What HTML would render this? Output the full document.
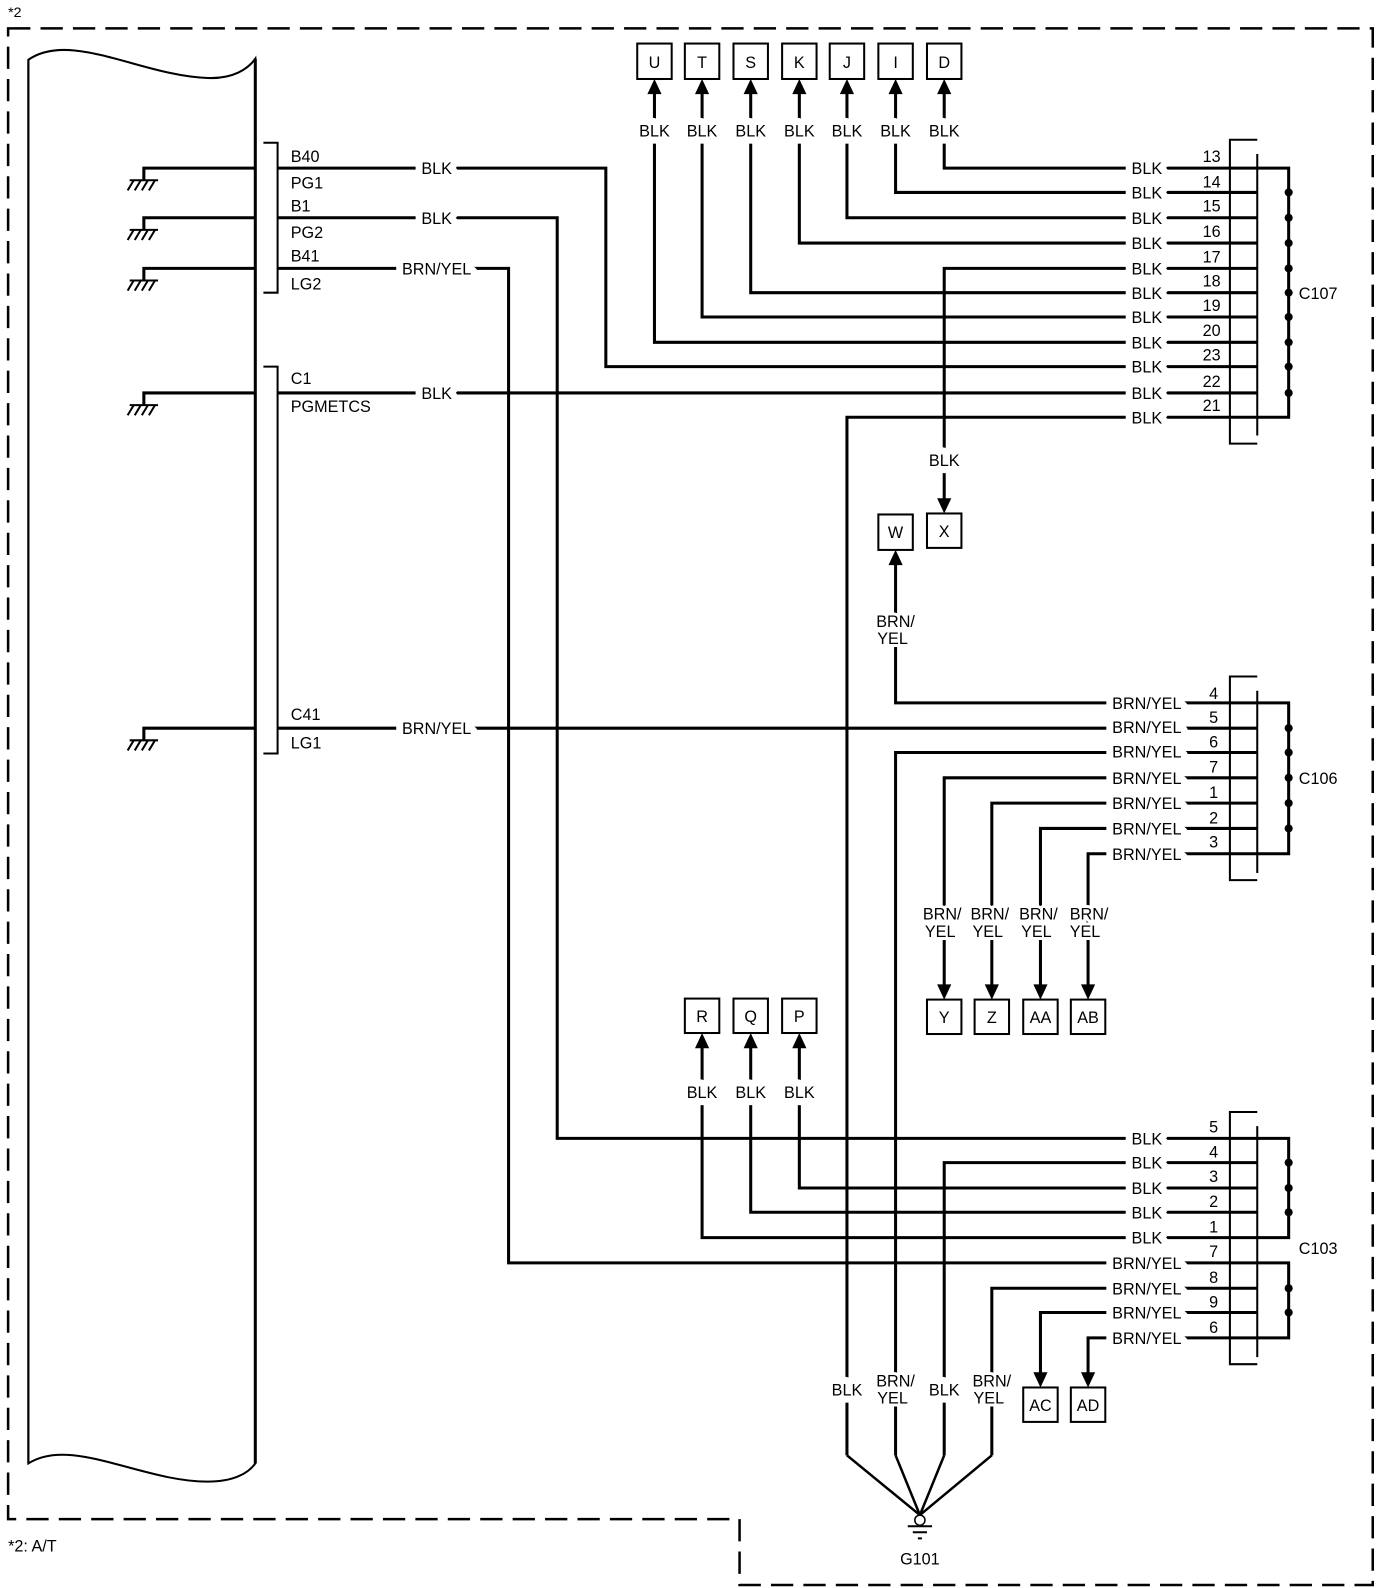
<!DOCTYPE html>
<html><head><meta charset="utf-8"><style>
html,body{margin:0;padding:0;background:#fff}
svg{display:block}
text{font-family:"Liberation Sans",Arial,sans-serif;font-size:16px;fill:#000}
.t{text-anchor:middle;stroke:#fff;stroke-width:14px;paint-order:stroke;stroke-linejoin:round}
.t2{text-anchor:middle;stroke:#fff;stroke-width:6px;paint-order:stroke;stroke-linejoin:round}
.l{text-anchor:start}
.w{fill:none;stroke:#000;stroke-width:3}
.b{fill:none;stroke:#000;stroke-width:2}
</style></head><body>
<svg width="1392" height="1588" viewBox="0 0 1374 1568" preserveAspectRatio="none" xmlns="http://www.w3.org/2000/svg">
<rect width="1374" height="1568" fill="#fff"/>
<path d="M8,28 H1355 V1565 H730 V1500 H8 Z" fill="none" stroke="#000" stroke-width="2.5" stroke-dasharray="22,10"/>
<text x="8" y="17" style="font-size:14px">*2</text>
<text x="8" y="1532">*2: A/T</text>
<path d="M28,59 C70,30 140,75 205,77 C230,78 245,68 252,58 L252,1445 C245,1455 230,1463 205,1463 C140,1463 70,1418 28,1445 Z" fill="none" stroke="#000" stroke-width="2"/>
<path d="M28,1445 V59" class="b"/>
<path d="M252,58 V1445" class="w"/>
<g>
<path d="M142,178 V166 H252 M142,227 V215 H252 M142,277 V265 H252 M142,400 V388 H252 M142,731 V719 H252" class="w"/>
<g stroke="#000" stroke-width="2">
<path d="M128,178 H156 M128,227 H156 M128,277 H156 M128,400 H156 M128,731 H156"/>
<path d="M132,178 l-6,10 M139,178 l-6,10 M146,178 l-6,10 M153,178 l-6,10
M132,227 l-6,10 M139,227 l-6,10 M146,227 l-6,10 M153,227 l-6,10
M132,277 l-6,10 M139,277 l-6,10 M146,277 l-6,10 M153,277 l-6,10
M132,400 l-6,10 M139,400 l-6,10 M146,400 l-6,10 M153,400 l-6,10
M132,731 l-6,10 M139,731 l-6,10 M146,731 l-6,10 M153,731 l-6,10"/>
</g>
</g>
<path d="M260,141 H274 V289 H260 M260,362 H274 V744 H260" class="b"/>
<text x="287" y="160" class="l">B40</text><text x="287" y="186" class="l">PG1</text>
<text x="287" y="209" class="l">B1</text><text x="287" y="235" class="l">PG2</text>
<text x="287" y="258" class="l">B41</text><text x="287" y="286" class="l">LG2</text>
<text x="287" y="379" class="l">C1</text><text x="287" y="407" class="l">PGMETCS</text>
<text x="287" y="711" class="l">C41</text><text x="287" y="739" class="l">LG1</text>

<g class="w">
<path d="M274,166 H598 V362 H1241"/>
<path d="M274,215 H550 V1124 H1241"/>
<path d="M274,265 H502 V1247 H1241"/>
<path d="M274,388 H1241"/>
<path d="M274,719 H1241"/>
<path d="M932,90 V166 H1241"/>
<path d="M884,90 V190 H1241"/>
<path d="M836,90 V215 H1241"/>
<path d="M789,90 V240 H1241"/>
<path d="M741,90 V289 H1241"/>
<path d="M693,90 V313 H1241"/>
<path d="M646,90 V338 H1241"/>
<path d="M932,496 V265 H1241"/>
<path d="M836,1437 V412 H1241"/>
<path d="M884,556 V694 H1241"/>
<path d="M884,1437 V743 H1241"/>
<path d="M932,975 V768 H1241"/>
<path d="M979,975 V793 H1241"/>
<path d="M1027,975 V818 H1241"/>
<path d="M1074,975 V843 H1241"/>
<path d="M693,1034 V1222 H1241"/>
<path d="M741,1034 V1197 H1241"/>
<path d="M789,1034 V1173 H1241"/>
<path d="M932,1437 V1148 H1241"/>
<path d="M979,1437 V1272 H1241"/>
<path d="M1027,1358 V1296 H1241"/>
<path d="M1074,1358 V1321 H1241"/>
<path d="M836,1437 L908,1496 M884,1437 L908,1496 M932,1437 L908,1496 M979,1437 L908,1496" stroke-width="2.5"/>
<path d="M1241,166 H1272 V412 H1241 M1241,694 H1272 V843 H1241 M1241,1124 H1272 V1222 H1241 M1241,1247 H1272 V1321 H1241"/>
</g>
<path d="M1241,138 H1214 V438 H1241 M1241,152 V430 M1241,668 H1214 V869 H1241 M1241,682 V862 M1241,1098 H1214 V1347 H1241 M1241,1112 V1340" class="b"/>
<g fill="#000">
<circle cx="1272" cy="190" r="4"/><circle cx="1272" cy="215" r="4"/><circle cx="1272" cy="240" r="4"/><circle cx="1272" cy="265" r="4"/><circle cx="1272" cy="289" r="4"/><circle cx="1272" cy="313" r="4"/><circle cx="1272" cy="338" r="4"/><circle cx="1272" cy="362" r="4"/><circle cx="1272" cy="388" r="4"/>
<circle cx="1272" cy="719" r="4"/><circle cx="1272" cy="743" r="4"/><circle cx="1272" cy="768" r="4"/><circle cx="1272" cy="793" r="4"/><circle cx="1272" cy="818" r="4"/>
<circle cx="1272" cy="1148" r="4"/><circle cx="1272" cy="1173" r="4"/><circle cx="1272" cy="1197" r="4"/>
<circle cx="1272" cy="1272" r="4"/><circle cx="1272" cy="1296" r="4"/>
</g>
<text x="1282" y="295" class="l">C107</text>
<text x="1282" y="774" class="l">C106</text>
<text x="1282" y="1238" class="l">C103</text>

<g style="text-anchor:middle">
<text x="1196" y="160">13</text><text x="1196" y="185">14</text><text x="1196" y="209">15</text><text x="1196" y="234">16</text><text x="1196" y="259">17</text><text x="1196" y="283">18</text><text x="1196" y="307">19</text><text x="1196" y="332">20</text><text x="1196" y="356">23</text><text x="1196" y="382">22</text><text x="1196" y="406">21</text>
<text x="1198" y="690">4</text><text x="1198" y="714">5</text><text x="1198" y="738">6</text><text x="1198" y="763">7</text><text x="1198" y="788">1</text><text x="1198" y="813">2</text><text x="1198" y="837">3</text>
<text x="1198" y="1118">5</text><text x="1198" y="1143">4</text><text x="1198" y="1167">3</text><text x="1198" y="1192">2</text><text x="1198" y="1217">1</text><text x="1198" y="1241">7</text><text x="1198" y="1267">8</text><text x="1198" y="1291">9</text><text x="1198" y="1316">6</text>
</g>

<g class="t">
<text x="431" y="172">BLK</text><text x="431" y="221">BLK</text><text x="431" y="271">BRN/YEL</text>
<text x="431" y="394">BLK</text><text x="431" y="725">BRN/YEL</text>
<text x="1132" y="172">BLK</text><text x="1132" y="196">BLK</text><text x="1132" y="221">BLK</text><text x="1132" y="246">BLK</text><text x="1132" y="271">BLK</text><text x="1132" y="295">BLK</text><text x="1132" y="319">BLK</text><text x="1132" y="344">BLK</text><text x="1132" y="368">BLK</text><text x="1132" y="394">BLK</text><text x="1132" y="418">BLK</text>
<text x="1132" y="700">BRN/YEL</text><text x="1132" y="724">BRN/YEL</text><text x="1132" y="748">BRN/YEL</text><text x="1132" y="774">BRN/YEL</text><text x="1132" y="799">BRN/YEL</text><text x="1132" y="824">BRN/YEL</text><text x="1132" y="849">BRN/YEL</text>
<text x="1132" y="1130">BLK</text><text x="1132" y="1154">BLK</text><text x="1132" y="1179">BLK</text><text x="1132" y="1203">BLK</text><text x="1132" y="1228">BLK</text><text x="1132" y="1253">BRN/YEL</text><text x="1132" y="1278">BRN/YEL</text><text x="1132" y="1302">BRN/YEL</text><text x="1132" y="1327">BRN/YEL</text>
<text x="646" y="135">BLK</text><text x="693" y="135">BLK</text><text x="741" y="135">BLK</text><text x="789" y="135">BLK</text><text x="836" y="135">BLK</text><text x="884" y="135">BLK</text><text x="932" y="135">BLK</text>
<text x="932" y="460">BLK</text>
<text x="693" y="1084">BLK</text><text x="741" y="1084">BLK</text><text x="789" y="1084">BLK</text>
<text x="836" y="1378">BLK</text>
<text x="932" y="1378">BLK</text>
</g>
<g class="t2">
<text x="884" y="619">BRN/</text><text x="881" y="636">YEL</text>
<text x="930" y="908">BRN/</text><text x="928" y="925">YEL</text>
<text x="977" y="908">BRN/</text><text x="975" y="925">YEL</text>
<text x="1025" y="908">BRN/</text><text x="1023" y="925">YEL</text>
<text x="1075" y="908">BRN/</text><text x="1071" y="925">YEL</text>
<text x="884" y="1369">BRN/</text><text x="881" y="1386">YEL</text>
<text x="979" y="1369">BRN/</text><text x="976" y="1386">YEL</text>
</g>

<g fill="#fff" stroke="#000" stroke-width="2">
<rect x="629" y="43" width="34" height="35"/><rect x="676" y="43" width="34" height="35"/><rect x="724" y="43" width="34" height="35"/><rect x="772" y="43" width="34" height="35"/><rect x="819" y="43" width="34" height="35"/><rect x="867" y="43" width="34" height="35"/><rect x="915" y="43" width="34" height="35"/>
<rect x="915" y="507" width="34" height="34"/><rect x="867" y="508" width="34" height="35"/>
<rect x="915" y="987" width="34" height="34"/><rect x="962" y="987" width="34" height="34"/><rect x="1010" y="987" width="34" height="34"/><rect x="1057" y="987" width="34" height="34"/>
<rect x="676" y="986" width="34" height="34"/><rect x="724" y="986" width="34" height="34"/><rect x="772" y="986" width="34" height="34"/>
<rect x="1010" y="1370" width="34" height="34"/><rect x="1057" y="1370" width="34" height="34"/>
</g>
<g style="text-anchor:middle">
<text x="646" y="67">U</text><text x="693" y="67">T</text><text x="741" y="67">S</text><text x="789" y="67">K</text><text x="836" y="67">J</text><text x="884" y="67">I</text><text x="932" y="67">D</text>
<text x="932" y="530">X</text><text x="884" y="531">W</text>
<text x="932" y="1010">Y</text><text x="979" y="1010">Z</text><text x="1027" y="1010">AA</text><text x="1074" y="1010">AB</text>
<text x="693" y="1009">R</text><text x="741" y="1009">Q</text><text x="789" y="1009">P</text>
<text x="1027" y="1393">AC</text><text x="1074" y="1393">AD</text>
</g>
<g fill="#000">
<path d="M646,78 l-7,15 h14z M693,78 l-7,15 h14z M741,78 l-7,15 h14z M789,78 l-7,15 h14z M836,78 l-7,15 h14z M884,78 l-7,15 h14z M932,78 l-7,15 h14z"/>
<path d="M884,543 l-7,15 h14z"/>
<path d="M693,1020 l-7,15 h14z M741,1020 l-7,15 h14z M789,1020 l-7,15 h14z"/>
<path d="M932,507 l-7,-15 h14z M932,987 l-7,-15 h14z M979,987 l-7,-15 h14z M1027,987 l-7,-15 h14z M1074,987 l-7,-15 h14z M1027,1370 l-7,-15 h14z M1074,1370 l-7,-15 h14z"/>
</g>
<circle cx="908" cy="1501" r="5" fill="#fff" stroke="#000" stroke-width="1.5"/>
<path d="M896,1507 H920 M901,1513 H915 M906,1519 H910" stroke="#000" stroke-width="2"/>
<text x="908" y="1545" style="text-anchor:middle">G101</text>
</svg>
</body></html>
